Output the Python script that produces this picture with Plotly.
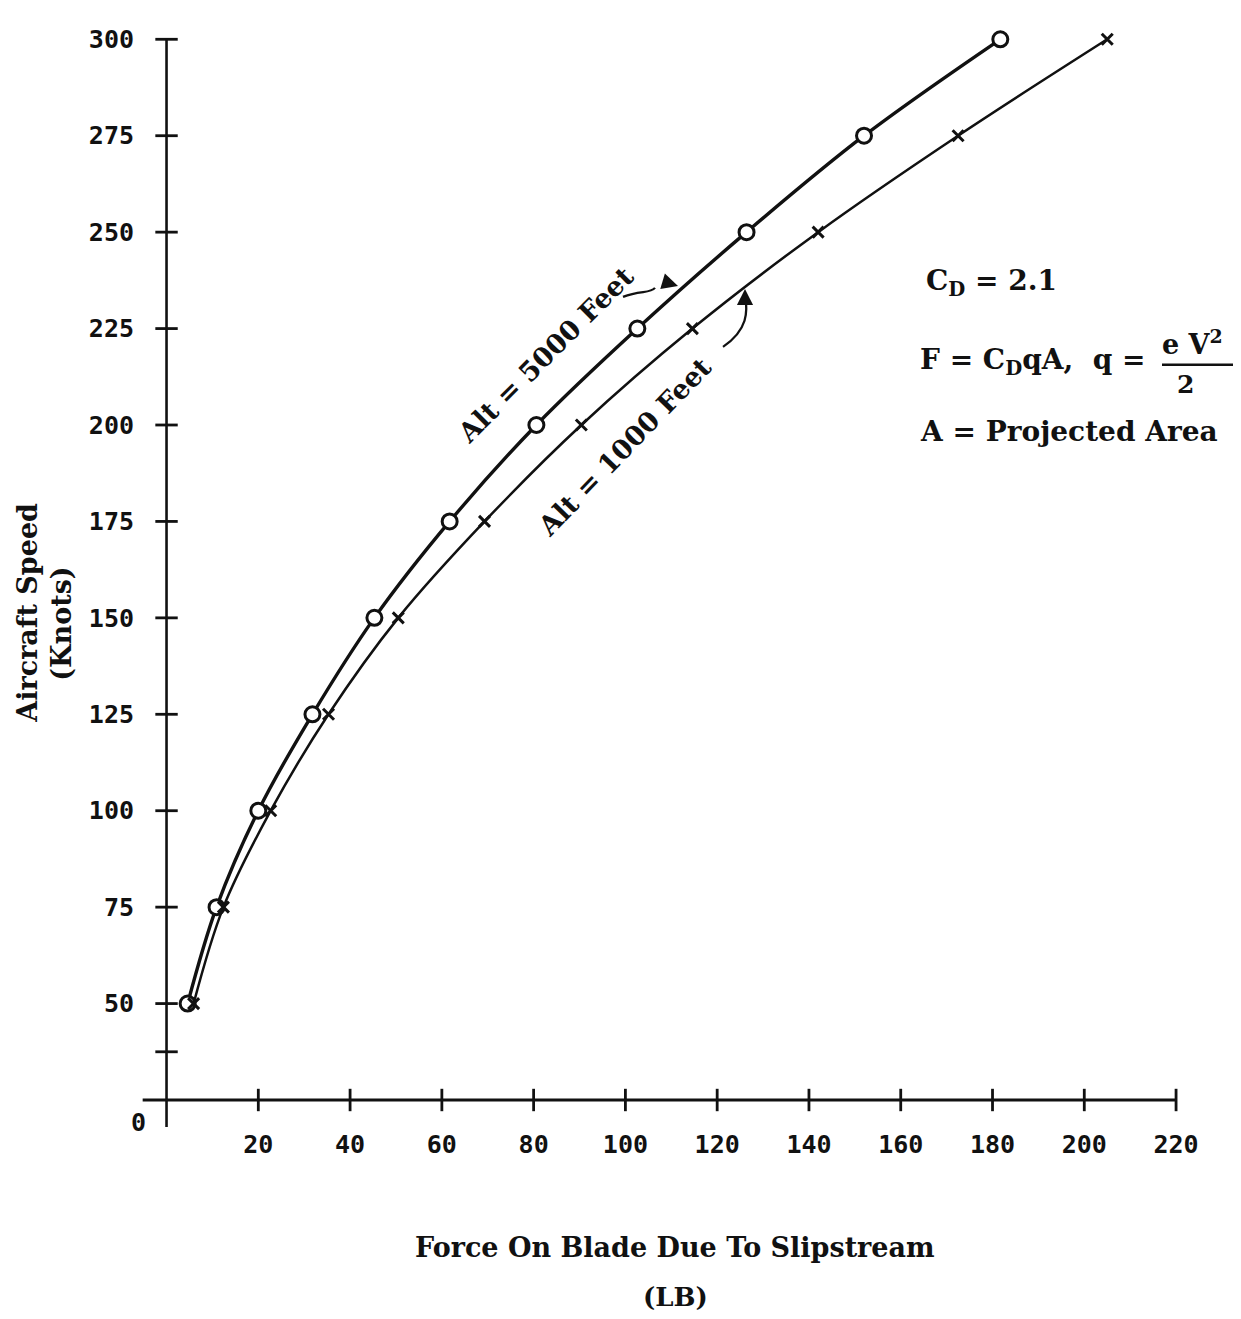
import plotly.graph_objects as go

# ---------------- data ----------------
speed_knots = [50, 75, 100, 125, 150, 175, 200, 225, 250, 275, 300]
force_alt5000 = [4.6, 10.9, 20.0, 31.8, 45.3, 61.7, 80.6, 102.6, 126.4, 152.0, 181.7]
force_alt1000 = [5.9, 12.4, 22.7, 35.3, 50.5, 69.3, 90.4, 114.6, 142.0, 172.5, 205.0]

x_tick_vals = [20, 40, 60, 80, 100, 120, 140, 160, 180, 200, 220]
x_tick_text = ["20", "40", "60", "80", "100", "120", "140", "160", "180", "200", "220"]
y_tick_vals = [50, 75, 100, 125, 150, 175, 200, 225, 250, 275, 300]
y_tick_text = ["50", "75", "100", "125", "150", "175", "200", "225", "250", "275", "300"]
y_break_tick = [37.5]
axis_origin_y = 25   # drawn x-axis sits below the 50-knot tick (broken scale, labelled "0")

# ---------------- geometry ----------------
PAGE_PAD = 8                    # default body margin of the html page
W, H = 1241 - 2 * PAGE_PAD, 1319 - 2 * PAGE_PAD
L, T = 139 - PAGE_PAD, 20 - PAGE_PAD
R = W - (1199 - PAGE_PAD)
B = H - (1127.5 - PAGE_PAD)
PW, PH = W - L - R, H - T - B

def px(xp, yp):
    """window pixel -> paper coordinates"""
    return (xp - PAGE_PAD - L) / PW, (H - B - (yp - PAGE_PAD)) / PH

SERIF = "DejaVu Serif"
MONO = "DejaVu Sans Mono"
INK = "#111111"

fig = go.Figure()

# curves
fig.add_trace(go.Scatter(
    x=force_alt5000, y=speed_knots, mode="lines+markers",
    line=dict(color=INK, width=3.4, shape="spline", smoothing=1.0),
    marker=dict(symbol="circle", size=15, color="white", line=dict(color=INK, width=3)),
    showlegend=False, cliponaxis=False))
fig.add_trace(go.Scatter(
    x=force_alt1000, y=speed_knots, mode="lines+markers",
    line=dict(color=INK, width=2.5, shape="spline", smoothing=1.0),
    marker=dict(symbol="x-thin", size=11, line=dict(color=INK, width=3)),
    showlegend=False, cliponaxis=False))

# axis lines (drawn through the origin like the hand-drawn chart)
fig.add_shape(type="line", xref="x", yref="y", x0=-5.2, x1=x_tick_vals[-1],
              y0=axis_origin_y, y1=axis_origin_y, line=dict(color=INK, width=3))
fig.add_shape(type="line", xref="x", yref="y", x0=0, x1=0,
              y0=18, y1=y_tick_vals[-1], line=dict(color=INK, width=2.6))

# crossing tick marks
fig.add_trace(go.Scatter(
    x=x_tick_vals, y=[axis_origin_y] * len(x_tick_vals), mode="markers",
    marker=dict(symbol="line-ns", size=16, line=dict(color=INK, width=2.8)),
    showlegend=False, hoverinfo="skip", cliponaxis=False))
fig.add_trace(go.Scatter(
    x=[0] * (len(y_tick_vals) + 1), y=y_tick_vals + y_break_tick, mode="markers",
    marker=dict(symbol="line-ew", size=16, line=dict(color=INK, width=2.8)),
    showlegend=False, hoverinfo="skip", cliponaxis=False))

tick_font = dict(family=MONO, size=25, color=INK, weight="bold")
fig.update_xaxes(range=[-6, 225], showgrid=False, zeroline=False, showline=False,
                 tickvals=x_tick_vals, ticktext=x_tick_text, ticks="", tickfont=tick_font,
                 ticklabelstandoff=0)
fig.update_yaxes(range=[18, 305], showgrid=False, zeroline=False, showline=False,
                 tickvals=y_tick_vals, ticktext=y_tick_text, ticks="", tickfont=tick_font,
                 ticklabelstandoff=4)

ann = []
def text(xp, yp, s, size=26, angle=0, xanchor="center", yanchor="middle", family=SERIF):
    x, y = px(xp, yp)
    ann.append(dict(x=x, y=y, xref="paper", yref="paper", text=s, showarrow=False,
                    textangle=angle, xanchor=xanchor, yanchor=yanchor,
                    font=dict(family=family, size=size, color=INK, weight="bold")))

# origin label
text(138, 1123, "0", size=25, family=MONO)

# axis titles
text(28, 613, "Aircraft Speed", size=27, angle=-90)
text(62, 624, "(Knots)", size=27, angle=-90)
text(675, 1248, "Force On Blade Due To Slipstream", size=27)
text(675, 1298, "(LB)", size=26)

# curve labels
text(546, 355, "Alt = 5000 Feet", size=27, angle=-45)
text(625, 447, "Alt = 1000 Feet", size=27, angle=-46)

# formula block
text(924, 283, "C<sub>D</sub> = 2.1", size=28, xanchor="left")
text(918, 362, "F = C<sub>D</sub>qA,  q =", size=28, xanchor="left")
text(1192, 343, "e V<sup>2</sup>", size=27)
text(1185, 385, "2", size=25)
text(918, 432, "A = Projected Area", size=28, xanchor="left")

fig.update_layout(annotations=ann)

# fraction bar
x0, y0 = px(1162, 365)
x1, y1 = px(1238, 365)
fig.add_shape(type="line", xref="paper", yref="paper", x0=x0, x1=x1, y0=y0, y1=y1,
              line=dict(color=INK, width=2.5))

# pointer arrows
def path(points, cmd):
    coords = [px(a, b) for a, b in points]
    s = "M {},{} ".format(*coords[0])
    s += cmd + " " + " ".join("{},{}".format(a, b) for a, b in coords[1:])
    return s

fig.add_shape(type="path", xref="paper", yref="paper",
              path=path([(623, 297), (640, 290), (650, 294), (655, 288), (660, 281), (668, 283), (676, 286)], "C"),
              line=dict(color=INK, width=2.3))
fig.add_shape(type="path", xref="paper", yref="paper",
              path=path([(723, 347), (748, 330), (748, 312), (745, 294)], "C"),
              line=dict(color=INK, width=2.3))

def arrowhead(xp, yp, axp, ayp):
    x, y = px(xp, yp)
    fig.add_annotation(x=x, y=y, xref="paper", yref="paper", ax=axp - xp, ay=ayp - yp,
                       axref="pixel", ayref="pixel", text="", showarrow=True,
                       arrowhead=2, arrowsize=1.4, arrowwidth=2.3, arrowcolor=INK)

arrowhead(678, 286, 668, 283)
arrowhead(745, 289, 745, 300)

fig.update_layout(width=W, height=H, margin=dict(l=L, r=R, t=T, b=B),
                  plot_bgcolor="white", paper_bgcolor="white", showlegend=False)

fig.write_html("out.html")
